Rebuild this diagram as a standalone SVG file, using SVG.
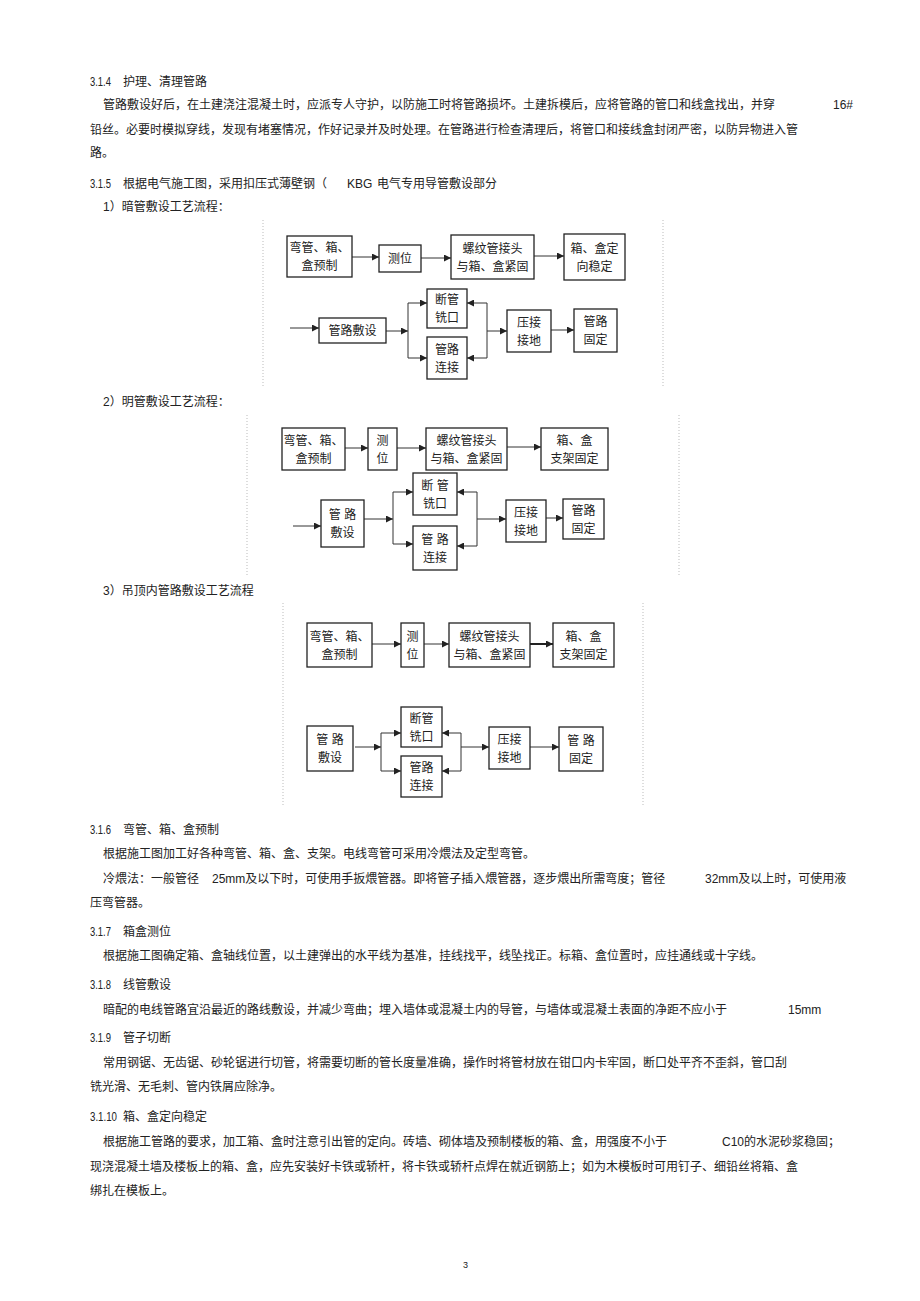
<svg xmlns="http://www.w3.org/2000/svg" width="920" height="1301" viewBox="0 0 920 1301">
<defs>
<style>
.t{font-family:"Liberation Sans","Noto Sans CJK SC",sans-serif;font-size:12px;fill:#222}
.n{font-family:"Liberation Sans","Noto Sans CJK SC",sans-serif;font-size:12px;fill:#222;text-anchor:middle}
.b{fill:#fff;stroke:#222;stroke-width:1.3}
.c{fill:none;stroke:#333;stroke-width:1}
.ca{fill:none;stroke:#333;stroke-width:1;marker-end:url(#ah)}
.cb{fill:none;stroke:#222;stroke-width:2;marker-end:url(#ah)}
.fr{stroke:#bbb;stroke-width:1;stroke-dasharray:1 2}
</style>
<marker id="ah" viewBox="0 0 8 8" refX="8" refY="4" markerWidth="7" markerHeight="7" markerUnits="userSpaceOnUse" orient="auto"><path d="M0,0 L8,4 L0,8 z" fill="#222"/></marker>
</defs>
<rect width="920" height="1301" fill="#fff"/>

<g id="body-text">
<text class="t" x="90" y="86" textLength="21" lengthAdjust="spacingAndGlyphs">3.1.4</text><text class="t" x="123" y="86">护理、清理管路</text>
<text class="t" x="103" y="109">管路敷设好后，在土建浇注混凝土时，应派专人守护，以防施工时将管路损坏。土建拆模后，应将管路的管口和线盒找出，并穿</text>
<text class="t" x="833" y="109" textLength="20" lengthAdjust="spacingAndGlyphs">16#</text>
<text class="t" x="90" y="134">铅丝。必要时模拟穿线，发现有堵塞情况，作好记录并及时处理。在管路进行检查清理后，将管口和接线盒封闭严密，以防异物进入管</text>
<text class="t" x="90" y="157">路。</text>
<text class="t" x="90" y="188" textLength="21" lengthAdjust="spacingAndGlyphs">3.1.5</text><text class="t" x="123" y="188">根据电气施工图，采用扣压式薄壁钢（</text>
<text class="t" x="347" y="188">KBG</text><text class="t" x="377" y="188">电气专用导管敷设部分</text>
<text class="t" x="103" y="211">1）暗管敷设工艺流程：</text>
<text class="t" x="103" y="406">2）明管敷设工艺流程：</text>
<text class="t" x="103" y="595">3）吊顶内管路敷设工艺流程</text>
<text class="t" x="90" y="834" textLength="21" lengthAdjust="spacingAndGlyphs">3.1.6</text><text class="t" x="123" y="834">弯管、箱、盒预制</text>
<text class="t" x="103" y="858">根据施工图加工好各种弯管、箱、盒、支架。电线弯管可采用冷煨法及定型弯管。</text>
<text class="t" x="103" y="883">冷煨法：一般管径</text>
<text class="t" x="212" y="883">25mm及以下时，可使用手扳煨管器。即将管子插入煨管器，逐步煨出所需弯度；管径</text>
<text class="t" x="705" y="883">32mm及以上时，可使用液</text>
<text class="t" x="90" y="907">压弯管器。</text>
<text class="t" x="90" y="936" textLength="21" lengthAdjust="spacingAndGlyphs">3.1.7</text><text class="t" x="123" y="936">箱盒测位</text>
<text class="t" x="103" y="960">根据施工图确定箱、盒轴线位置，以土建弹出的水平线为基准，挂线找平，线坠找正。标箱、盒位置时，应挂通线或十字线。</text>
<text class="t" x="90" y="989" textLength="21" lengthAdjust="spacingAndGlyphs">3.1.8</text><text class="t" x="123" y="989">线管敷设</text>
<text class="t" x="103" y="1014">暗配的电线管路宜沿最近的路线敷设，并减少弯曲；埋入墙体或混凝土内的导管，与墙体或混凝土表面的净距不应小于</text>
<text class="t" x="788" y="1014">15mm</text>
<text class="t" x="90" y="1042" textLength="21" lengthAdjust="spacingAndGlyphs">3.1.9</text><text class="t" x="123" y="1042">管子切断</text>
<text class="t" x="103" y="1067">常用钢锯、无齿锯、砂轮锯进行切管，将需要切断的管长度量准确，操作时将管材放在钳口内卡牢固，断口处平齐不歪斜，管口刮</text>
<text class="t" x="90" y="1091">铣光滑、无毛刺、管内铁屑应除净。</text>
<text class="t" x="90" y="1121" textLength="27" lengthAdjust="spacingAndGlyphs">3.1.10</text><text class="t" x="123" y="1121">箱、盒定向稳定</text>
<text class="t" x="103" y="1146">根据施工管路的要求，加工箱、盒时注意引出管的定向。砖墙、砌体墙及预制楼板的箱、盒，用强度不小于</text>
<text class="t" x="722" y="1146">C10的水泥砂浆稳固；</text>
<text class="t" x="90" y="1171">现浇混凝土墙及楼板上的箱、盒，应先安装好卡铁或轿杆，将卡铁或轿杆点焊在就近钢筋上；如为木模板时可用钉子、细铅丝将箱、盒</text>
<text class="t" x="90" y="1195">绑扎在模板上。</text>
<text class="t" x="463" y="1268" style="font-size:9px">3</text>
</g>

<g id="frames">
<line class="fr" x1="263" y1="220" x2="263" y2="388"/><line class="fr" x1="663" y1="220" x2="663" y2="388"/>
<line class="fr" x1="247" y1="415" x2="247" y2="575"/><line class="fr" x1="679" y1="415" x2="679" y2="575"/>
<line class="fr" x1="283" y1="603" x2="283" y2="805"/><line class="fr" x1="643" y1="603" x2="643" y2="805"/>
</g>

<g id="connectors">
<!-- diagram 1 -->
<line class="ca" x1="352" y1="257" x2="379" y2="257"/>
<line class="ca" x1="421" y1="258" x2="451" y2="258"/>
<line class="ca" x1="534" y1="256" x2="564" y2="256"/>
<line class="ca" x1="290" y1="328" x2="319" y2="328"/>
<line class="ca" x1="386" y1="331" x2="408" y2="331"/>
<line class="c" x1="408" y1="303" x2="408" y2="358"/>
<line class="ca" x1="408" y1="303" x2="427" y2="303"/>
<line class="ca" x1="408" y1="358" x2="427" y2="358"/>
<line class="c" x1="487" y1="303" x2="487" y2="358"/>
<line class="ca" x1="487" y1="303" x2="467" y2="303"/>
<line class="ca" x1="487" y1="358" x2="467" y2="358"/>
<line class="ca" x1="487" y1="331" x2="507" y2="331"/>
<line class="ca" x1="551" y1="330" x2="574" y2="330"/>
<!-- diagram 2 -->
<line class="ca" x1="345" y1="448" x2="368" y2="448"/>
<line class="ca" x1="397" y1="448" x2="426" y2="448"/>
<line class="ca" x1="507" y1="447" x2="541" y2="447"/>
<line class="ca" x1="293" y1="526" x2="321" y2="526"/>
<line class="ca" x1="364" y1="519" x2="393" y2="519"/>
<line class="c" x1="393" y1="492" x2="393" y2="544"/>
<line class="ca" x1="393" y1="492" x2="413" y2="492"/>
<line class="ca" x1="393" y1="544" x2="413" y2="544"/>
<line class="c" x1="477" y1="492" x2="477" y2="546"/>
<line class="ca" x1="477" y1="492" x2="457" y2="492"/>
<line class="ca" x1="477" y1="546" x2="457" y2="546"/>
<line class="ca" x1="477" y1="519" x2="506" y2="519"/>
<line class="ca" x1="546" y1="518" x2="563" y2="518"/>
<!-- diagram 3 -->
<line class="ca" x1="372" y1="644" x2="401" y2="644"/>
<line class="ca" x1="424" y1="644" x2="449" y2="644"/>
<line class="cb" x1="530" y1="644" x2="553" y2="644"/>
<line class="ca" x1="355" y1="747" x2="381" y2="747"/>
<line class="c" x1="381" y1="733" x2="381" y2="771"/>
<line class="ca" x1="381" y1="733" x2="401" y2="733"/>
<line class="ca" x1="381" y1="771" x2="401" y2="771"/>
<line class="c" x1="461" y1="733" x2="461" y2="771"/>
<line class="ca" x1="461" y1="733" x2="442" y2="733"/>
<line class="ca" x1="461" y1="771" x2="442" y2="771"/>
<line class="ca" x1="461" y1="747" x2="489" y2="747"/>
<line class="ca" x1="530" y1="747" x2="559" y2="747"/>
</g>

<!-- Diagram 1 nodes -->
<g id="d1-wanguan"><rect class="b" x="287" y="236" width="65" height="41"/><text class="n" x="319.5" y="252">弯管、箱、</text><text class="n" x="319.5" y="270">盒预制</text></g>
<g id="d1-cewei"><rect class="b" x="379" y="245" width="42" height="27"/><text class="n" x="400" y="263">测位</text></g>
<g id="d1-luowen"><rect class="b" x="451" y="235" width="83" height="44"/><text class="n" x="492.5" y="253">螺纹管接头</text><text class="n" x="492.5" y="271">与箱、盒紧固</text></g>
<g id="d1-xianghe"><rect class="b" x="564" y="234" width="61" height="46"/><text class="n" x="594.5" y="253">箱、盒定</text><text class="n" x="594.5" y="271">向稳定</text></g>
<g id="d1-fushe"><rect class="b" x="319" y="318" width="67" height="25"/><text class="n" x="352.5" y="335">管路敷设</text></g>
<g id="d1-duanguan"><rect class="b" x="427" y="289" width="40" height="39"/><text class="n" x="447" y="304">断管</text><text class="n" x="447" y="322">铣口</text></g>
<g id="d1-lianjie"><rect class="b" x="427" y="337" width="40" height="42"/><text class="n" x="447" y="354">管路</text><text class="n" x="447" y="372">连接</text></g>
<g id="d1-yajie"><rect class="b" x="507" y="310" width="44" height="42"/><text class="n" x="529" y="327">压接</text><text class="n" x="529" y="345">接地</text></g>
<g id="d1-guding"><rect class="b" x="574" y="309" width="43" height="43"/><text class="n" x="595.5" y="326">管路</text><text class="n" x="595.5" y="344">固定</text></g>

<!-- Diagram 2 nodes -->
<g id="d2-wanguan"><rect class="b" x="282" y="428" width="63" height="42"/><text class="n" x="313.5" y="445">弯管、箱、</text><text class="n" x="313.5" y="463">盒预制</text></g>
<g id="d2-cewei"><rect class="b" x="368" y="428" width="29" height="42"/><text class="n" x="382.5" y="445">测</text><text class="n" x="382.5" y="463">位</text></g>
<g id="d2-luowen"><rect class="b" x="426" y="428" width="81" height="42"/><text class="n" x="466.5" y="445">螺纹管接头</text><text class="n" x="466.5" y="463">与箱、盒紧固</text></g>
<g id="d2-xianghe"><rect class="b" x="541" y="428" width="67" height="42"/><text class="n" x="574.5" y="445">箱、盒</text><text class="n" x="574.5" y="463">支架固定</text></g>
<g id="d2-fushe"><rect class="b" x="321" y="500" width="43" height="47"/><text class="n" x="342.5" y="519">管 路</text><text class="n" x="342.5" y="537">敷设</text></g>
<g id="d2-duanguan"><rect class="b" x="413" y="473" width="44" height="42"/><text class="n" x="435" y="490">断 管</text><text class="n" x="435" y="508">铣口</text></g>
<g id="d2-lianjie"><rect class="b" x="413" y="526" width="44" height="44"/><text class="n" x="435" y="544">管 路</text><text class="n" x="435" y="562">连接</text></g>
<g id="d2-yajie"><rect class="b" x="506" y="500" width="40" height="42"/><text class="n" x="526" y="517">压接</text><text class="n" x="526" y="535">接地</text></g>
<g id="d2-guding"><rect class="b" x="563" y="499" width="41" height="40"/><text class="n" x="583.5" y="515">管路</text><text class="n" x="583.5" y="533">固定</text></g>

<!-- Diagram 3 nodes -->
<g id="d3-wanguan"><rect class="b" x="307" y="623" width="65" height="44"/><text class="n" x="339.5" y="641">弯管、箱、</text><text class="n" x="339.5" y="659">盒预制</text></g>
<g id="d3-cewei"><rect class="b" x="401" y="623" width="23" height="44"/><text class="n" x="412.5" y="641">测</text><text class="n" x="412.5" y="659">位</text></g>
<g id="d3-luowen"><rect class="b" x="449" y="623" width="81" height="44"/><text class="n" x="489.5" y="641">螺纹管接头</text><text class="n" x="489.5" y="659">与箱、盒紧固</text></g>
<g id="d3-xianghe"><rect class="b" x="553" y="623" width="61" height="44"/><text class="n" x="583.5" y="641">箱、盒</text><text class="n" x="583.5" y="659">支架固定</text></g>
<g id="d3-fushe"><rect class="b" x="307" y="726" width="46" height="45"/><text class="n" x="330" y="744">管 路</text><text class="n" x="330" y="762">敷设</text></g>
<g id="d3-duanguan"><rect class="b" x="401" y="707" width="41" height="40"/><text class="n" x="421.5" y="723">断管</text><text class="n" x="421.5" y="741">铣口</text></g>
<g id="d3-lianjie"><rect class="b" x="401" y="756" width="41" height="41"/><text class="n" x="421.5" y="772">管路</text><text class="n" x="421.5" y="790">连接</text></g>
<g id="d3-yajie"><rect class="b" x="489" y="727" width="41" height="42"/><text class="n" x="509.5" y="744">压接</text><text class="n" x="509.5" y="762">接地</text></g>
<g id="d3-guding"><rect class="b" x="559" y="727" width="44" height="44"/><text class="n" x="581" y="745">管 路</text><text class="n" x="581" y="763">固定</text></g>
</svg>
